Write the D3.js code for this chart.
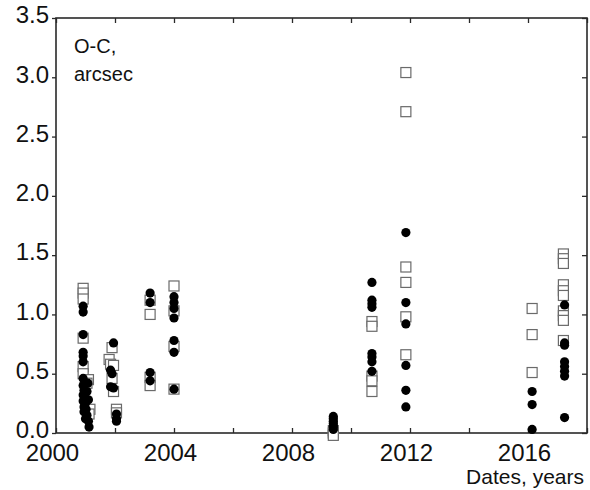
<!DOCTYPE html>
<html>
<head>
<meta charset="utf-8">
<script src="https://cdn.jsdelivr.net/npm/d3@7"></script>
<style>
  body { margin: 0; background: #fff; }
  svg { display: block; font-family: "Liberation Sans", Arial, sans-serif; }
</style>
</head>
<body>
<script>
// O-C residuals, arcsec
// filled circles
const circleYears = [
  2000.92, 2000.92, 2000.92, 2000.92, 2000.92, 2000.92, 2000.92, 2000.92,
  2000.95, 2000.92, 2000.98, 2000.92, 2001.0, 2000.95, 2001.02, 2000.95,
  2001.05, 2001.0, 2001.1, 2001.12, 2001.08, 2001.05, 2001.1,
  2001.95, 2001.85, 2001.9, 2001.85, 2001.95, 2002.05, 2002.05, 2002.05,
  2003.19, 2003.19, 2003.19, 2003.19,
  2004.0, 2004.0, 2004.0, 2004.0, 2004.0, 2004.0, 2004.0,
  2009.4, 2009.4, 2009.4, 2009.4, 2009.4, 2009.4, 2009.4,
  2010.71, 2010.71, 2010.71, 2010.71, 2010.71, 2010.71, 2010.71, 2010.71,
  2011.86, 2011.86, 2011.86, 2011.86, 2011.86, 2011.86,
  2016.14, 2016.14, 2016.14,
  2017.24, 2017.24, 2017.24, 2017.24, 2017.24, 2017.24, 2017.24, 2017.24
];
const circleValues = [
  1.07, 1.02, 0.83, 0.68, 0.65, 0.60, 0.46, 0.40,
  0.36, 0.32, 0.30, 0.27, 0.25, 0.22, 0.20, 0.18,
  0.15, 0.12, 0.10, 0.05, 0.42, 0.35, 0.28,
  0.76, 0.53, 0.50, 0.39, 0.38, 0.16, 0.12, 0.10,
  1.18, 1.10, 0.51, 0.44,
  1.15, 1.10, 1.05, 0.97, 0.78, 0.68, 0.37,
  0.14, 0.12, 0.10, 0.08, 0.06, 0.05, 0.03,
  1.27, 1.12, 1.09, 1.06, 0.67, 0.64, 0.60, 0.52,
  1.69, 1.10, 0.92, 0.57, 0.36, 0.22,
  0.35, 0.24, 0.03,
  1.08, 0.76, 0.74, 0.60, 0.56, 0.52, 0.48, 0.13
];

// open squares
const squareYears = [
  2000.92, 2000.92, 2000.92, 2000.92, 2000.92, 2000.92, 2001.1, 2001.05,
  2001.15, 2001.12,
  2001.9, 2001.8, 2001.85, 2001.95, 2001.9, 2001.95, 2002.05, 2002.05,
  2003.19, 2003.19, 2003.19, 2003.19,
  2004.0, 2004.0, 2004.0, 2004.0,
  2009.4, 2009.4, 2009.4,
  2010.71, 2010.71, 2010.71, 2010.71, 2010.71,
  2011.86, 2011.86, 2011.86, 2011.86, 2011.86, 2011.86,
  2016.14, 2016.14, 2016.14,
  2017.2, 2017.2, 2017.2, 2017.2, 2017.2, 2017.2, 2017.2, 2017.2, 2017.2, 2017.2
];
const squareValues = [
  1.22, 1.18, 1.13, 0.80, 0.56, 0.50, 0.45, 0.42,
  0.20, 0.16,
  0.72, 0.62, 0.58, 0.57, 0.46, 0.35, 0.20, 0.17,
  1.12, 1.00, 0.47, 0.40,
  1.24, 1.03, 0.73, 0.37,
  0.02, 0.00, -0.02,
  0.94, 0.90, 0.48, 0.44, 0.35,
  3.04, 2.71, 1.40, 1.27, 0.98, 0.66,
  1.05, 0.83, 0.51,
  1.51, 1.47, 1.25, 1.20, 1.16, 1.03, 0.99, 0.95, 0.78, 1.43
];

const yTicks = [0, 0.5, 1.0, 1.5, 2.0, 2.5, 3.0, 3.5];
const xTicks = [2000, 2002, 2004, 2006, 2008, 2010, 2012, 2014, 2016, 2018];
const xLabels = [2000, 2004, 2008, 2012, 2016];

const W = 590, H = 490;
const plot = { left: 56, right: 587, top: 18, bottom: 433 };

const x = d3.scaleLinear().domain([2000, 2018]).range([plot.left, plot.right]);
const y = d3.scaleLinear().domain([0, 3.5]).range([plot.bottom, plot.top]);

const svg = d3.select('body').append('svg')
  .attr('width', W)
  .attr('height', H);

const ink = '#2a2a2a';

// axes
const yAxis = svg.append('g')
  .attr('transform', 'translate(' + plot.left + ',0)')
  .call(d3.axisLeft(y).tickValues(yTicks).tickFormat(d3.format('.1f')).tickSize(4).tickPadding(3));

const yRight = svg.append('g')
  .attr('transform', 'translate(' + plot.right + ',0)')
  .call(d3.axisRight(y).tickValues(yTicks).tickFormat('').tickSize(-5));

const xAxis = svg.append('g')
  .attr('transform', 'translate(0,' + plot.bottom + ')')
  .call(d3.axisBottom(x).tickValues(xTicks)
    .tickFormat(d => xLabels.includes(d) ? d : '')
    .tickSize(-5).tickPadding(10));

const xTop = svg.append('g')
  .attr('transform', 'translate(0,' + plot.top + ')')
  .call(d3.axisTop(x).tickValues(xTicks).tickFormat('').tickSize(-5));

svg.selectAll('.domain').remove();
svg.selectAll('.tick line').attr('stroke', ink).attr('stroke-width', 1.3);
svg.selectAll('.tick text')
  .attr('fill', '#111')
  .style('font-size', '24px')
  .style('font-family', '"Liberation Sans", Arial, sans-serif');
yAxis.selectAll('.tick text').attr('dy', '0.2em');
xAxis.selectAll('.tick text').attr('dy', '0.75em').attr('dx', -4);

// frame
svg.append('rect')
  .attr('x', plot.left).attr('y', plot.top)
  .attr('width', plot.right - plot.left).attr('height', plot.bottom - plot.top)
  .attr('fill', 'none')
  .attr('stroke', ink)
  .attr('stroke-width', 1.6);

// squares
const sq = 10;
svg.append('g').selectAll('rect')
  .data(squareYears.map((d, i) => [d, squareValues[i]]))
  .join('rect')
    .attr('x', d => x(d[0]) - sq / 2)
    .attr('y', d => y(d[1]) - sq / 2)
    .attr('width', sq).attr('height', sq)
    .attr('fill', '#fff')
    .attr('stroke', '#6a6a6a')
    .attr('stroke-width', 1.2);

// circles
svg.append('g').selectAll('circle')
  .data(circleYears.map((d, i) => [d, circleValues[i]]))
  .join('circle')
    .attr('cx', d => x(d[0]))
    .attr('cy', d => y(d[1]))
    .attr('r', 4.6)
    .attr('fill', '#000');

// labels
svg.append('text')
  .attr('x', 74).attr('y', 53)
  .attr('font-size', 20).attr('fill', '#111')
  .text('O-C,');
svg.append('text')
  .attr('x', 74).attr('y', 81)
  .attr('font-size', 20).attr('fill', '#111')
  .text('arcsec');

svg.append('text')
  .attr('x', 584).attr('y', 484)
  .attr('text-anchor', 'end')
  .attr('font-size', 21).attr('fill', '#111')
  .text('Dates, years');
</script>
</body>
</html>
